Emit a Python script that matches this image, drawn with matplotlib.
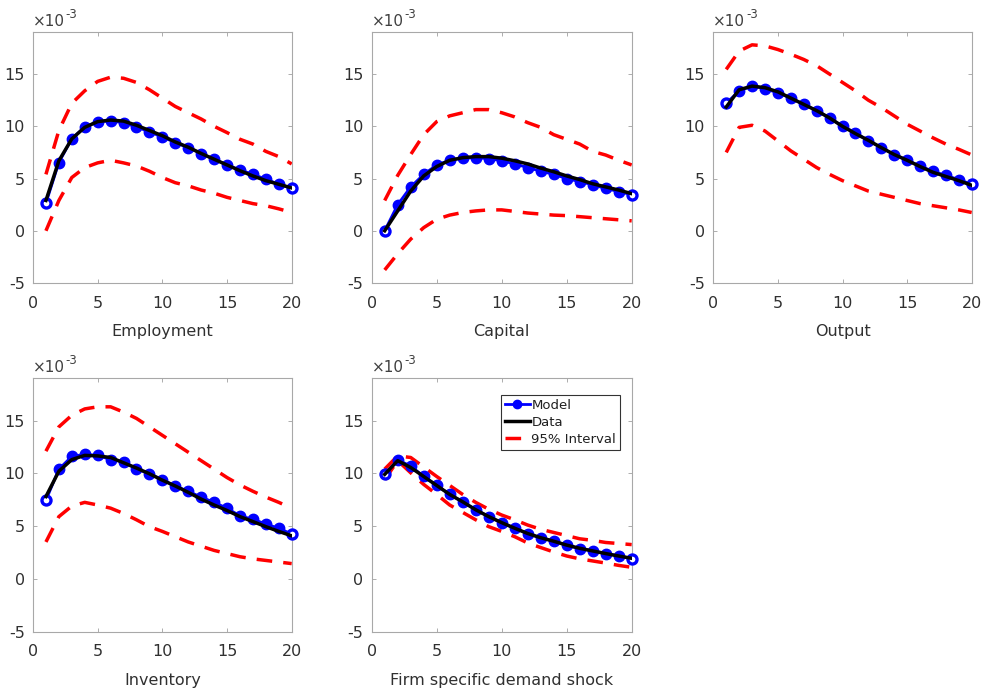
import matplotlib
matplotlib.use("Agg")
import matplotlib.pyplot as plt
from matplotlib.lines import Line2D
import numpy as np

plt.rcParams['font.family'] = ['DejaVu Sans']
plt.rcParams['axes.unicode_minus'] = False

horizon = list(range(1, 21))

titles = ["Employment", "Capital", "Output", "Inventory", "Firm specific demand shock"]

# values in units of 1e-3
emp_model = [2.64, 6.53, 8.82, 9.94, 10.45, 10.5, 10.35, 9.94, 9.46, 8.98, 8.44, 7.96, 7.39, 6.85, 6.3, 5.83, 5.41, 4.94, 4.46, 4.08]
emp_data = [2.9, 6.7, 8.8, 9.9, 10.45, 10.6, 10.5, 10.1, 9.6, 9.1, 8.5, 8.0, 7.4, 6.85, 6.3, 5.75, 5.25, 4.8, 4.45, 4.1]
emp_upper = [5.4, 9.6, 12.2, 13.4, 14.3, 14.7, 14.6, 14.2, 13.5, 12.7, 11.9, 11.3, 10.7, 10.0, 9.4, 8.76, 8.3, 7.6, 7.1, 6.4]
emp_lower = [0.0, 2.9, 5.1, 6.05, 6.5, 6.75, 6.5, 6.2, 5.7, 5.1, 4.6, 4.3, 3.9, 3.6, 3.2, 2.9, 2.6, 2.4, 2.1, 1.75]

cap_model = [0.0, 2.5, 4.2, 5.4, 6.3, 6.75, 6.95, 7.0, 6.9, 6.7, 6.4, 6.05, 5.7, 5.4, 5.0, 4.7, 4.4, 4.05, 3.75, 3.45]
cap_data = [0.0, 1.9, 3.8, 5.25, 6.15, 6.75, 7.0, 7.1, 7.1, 6.95, 6.7, 6.4, 6.0, 5.65, 5.25, 4.9, 4.5, 4.2, 3.9, 3.55]
cap_upper = [2.9, 5.3, 7.3, 9.2, 10.45, 11.0, 11.3, 11.6, 11.6, 11.3, 10.9, 10.35, 9.9, 9.2, 8.75, 8.3, 7.6, 7.25, 6.75, 6.3]
cap_lower = [-3.75, -2.2, -0.8, 0.3, 1.1, 1.5, 1.75, 1.9, 2.0, 2.0, 1.85, 1.7, 1.6, 1.5, 1.45, 1.35, 1.25, 1.15, 1.05, 0.95]

out_model = [12.2, 13.4, 13.85, 13.6, 13.2, 12.7, 12.1, 11.5, 10.8, 10.0, 9.4, 8.6, 7.96, 7.3, 6.75, 6.2, 5.7, 5.3, 4.9, 4.46]
out_data = [11.85, 13.5, 13.85, 13.7, 13.3, 12.7, 12.1, 11.5, 10.8, 10.0, 9.3, 8.66, 7.96, 7.3, 6.75, 6.15, 5.6, 5.2, 4.8, 4.35]
out_upper = [15.45, 17.2, 17.8, 17.7, 17.35, 16.9, 16.4, 15.8, 15.0, 14.2, 13.4, 12.5, 11.8, 11.0, 10.2, 9.55, 8.9, 8.3, 7.8, 7.26]
out_lower = [7.5, 9.9, 10.1, 9.55, 8.6, 7.65, 6.85, 6.05, 5.4, 4.8, 4.3, 3.8, 3.5, 3.2, 2.9, 2.6, 2.4, 2.2, 2.0, 1.75]

inv_model = [7.44, 10.4, 11.6, 11.8, 11.7, 11.3, 11.1, 10.4, 9.96, 9.4, 8.8, 8.3, 7.75, 7.25, 6.7, 5.97, 5.65, 5.2, 4.8, 4.25]
inv_data = [7.8, 10.2, 11.3, 11.7, 11.65, 11.5, 11.0, 10.5, 9.96, 9.35, 8.8, 8.2, 7.56, 7.0, 6.48, 5.9, 5.43, 4.95, 4.5, 4.08]
inv_upper = [12.1, 14.4, 15.5, 16.1, 16.3, 16.3, 15.8, 15.2, 14.4, 13.6, 12.8, 12.0, 11.2, 10.4, 9.6, 8.9, 8.3, 7.75, 7.25, 6.7]
inv_lower = [3.5, 5.9, 6.9, 7.25, 7.0, 6.7, 6.2, 5.6, 4.95, 4.5, 4.0, 3.5, 3.1, 2.7, 2.4, 2.1, 1.9, 1.75, 1.6, 1.45]

dem_model = [9.9, 11.27, 10.7, 9.7, 8.85, 8.0, 7.3, 6.55, 5.9, 5.33, 4.8, 4.3, 3.9, 3.57, 3.2, 2.87, 2.65, 2.4, 2.17, 1.9]
dem_data = [9.9, 11.2, 10.55, 9.7, 8.85, 8.0, 7.3, 6.55, 5.9, 5.33, 4.8, 4.3, 3.9, 3.57, 3.2, 2.9, 2.65, 2.4, 2.17, 1.95]
dem_upper = [10.4, 11.65, 11.5, 10.6, 9.7, 8.85, 8.0, 7.25, 6.6, 6.05, 5.6, 5.1, 4.7, 4.4, 4.1, 3.8, 3.65, 3.45, 3.35, 3.25]
dem_lower = [9.4, 11.2, 10.05, 8.95, 8.0, 7.0, 6.3, 5.6, 4.95, 4.5, 4.0, 3.4, 2.97, 2.55, 2.17, 1.9, 1.7, 1.5, 1.28, 1.1]

models = [emp_model, cap_model, out_model, inv_model, dem_model]
datas = [emp_data, cap_data, out_data, inv_data, dem_data]
uppers = [emp_upper, cap_upper, out_upper, inv_upper, dem_upper]
lowers = [emp_lower, cap_lower, out_lower, inv_lower, dem_lower]

legend_labels = ['Model', 'Data', '95% Interval']

xticks = [0, 5, 10, 15, 20]
yticks = [-5, 0, 5, 10, 15]

W, H = 982, 692
fig = plt.figure(figsize=(W / 100, H / 100), dpi=100)

lefts = [33, 371.7, 713.3]
widths = [258.7, 260.0, 258.4]
row_top = [32.3, 378.3]
row_bot = [283.0, 631.7]

positions = []
for r in range(2):
    for c in range(3):
        if r == 1 and c == 2:
            continue
        positions.append([lefts[c] / W, 1 - row_bot[r] / H, widths[c] / W, (row_bot[r] - row_top[r]) / H])

txtc = '#303030'
blue = '#0000ff'
red = '#ff0000'
dash = (0, (4.5, 3.2))
for i in range(5):
    ax = fig.add_axes(positions[i])
    x = np.array(horizon)
    m = np.array(models[i])
    ax.plot(x, m, color=blue, lw=2, zorder=3)
    ax.plot(x[1:-1], m[1:-1], ls='none', marker='o', ms=7.5, mfc=blue, mec=blue, mew=1,
            zorder=3, clip_on=False)
    ax.plot(x[[0, -1]], m[[0, -1]], ls='none', marker='o', ms=6.5, mfc='white', mec=blue,
            mew=2.4, zorder=3, clip_on=False)
    ax.plot(x, datas[i], color='black', lw=2.5, zorder=4)
    ax.plot(x, uppers[i], color=red, lw=2.5, ls=dash, zorder=2)
    ax.plot(x, lowers[i], color=red, lw=2.5, ls=dash, zorder=2)
    ax.set_xlim(0, 20)
    ax.set_ylim(-5, 19)
    ax.set_xticks(xticks)
    ax.set_yticks(yticks)
    ax.tick_params(direction='in', length=3, width=0.6, colors='#a0a0a0',
                   labelcolor=txtc, labelsize=11.5, top=True, right=True)
    ax.tick_params(axis='x', pad=9)
    ax.tick_params(axis='y', pad=6)
    for s in ax.spines.values():
        s.set_color('#a8a8a8')
        s.set_linewidth(0.8)
    ax.set_xlabel(titles[i], fontsize=11.5, color=txtc, labelpad=10)
    t = ax.text(0.0, 1.012, '×10', transform=ax.transAxes,
                fontsize=11, color='#404040', ha='left', va='bottom')
    ax.annotate('-3', xy=(1, 0.55), xycoords=t, xytext=(0.5, 0), textcoords='offset points',
                fontsize=8.5, color='#404040', ha='left', va='bottom')
    if i == 4:
        hm = Line2D([], [], color=blue, lw=2, marker='o', ms=6, mfc=blue, mec=blue)
        hd = Line2D([], [], color='black', lw=2.5)
        hu = Line2D([], [], color=red, lw=2.5, ls=dash)
        leg = ax.legend(handles=[hm, hd, hu], labels=legend_labels,
                        loc='upper right', bbox_to_anchor=(0.955, 0.935),
                        fontsize=9.5, frameon=True, fancybox=False, handlelength=1.9,
                        handletextpad=0.1, borderpad=0.3, labelspacing=0.3, borderaxespad=0)
        leg.get_frame().set_edgecolor('black')
        leg.get_frame().set_linewidth(0.8)
        for tx in leg.get_texts():
            tx.set_color('#202020')

fig.savefig('out.png', dpi=100)
